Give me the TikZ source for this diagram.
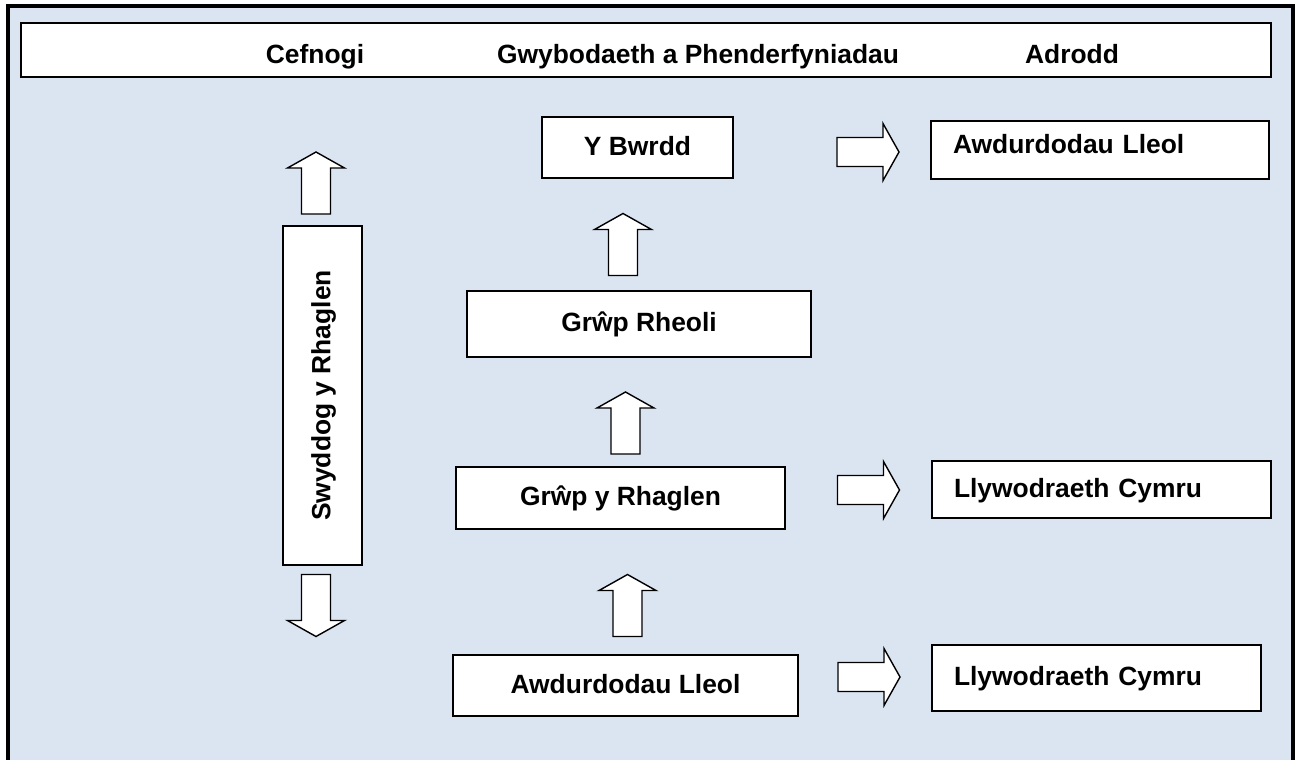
\documentclass[tikz,border=0pt]{standalone}
\usepackage{fontspec}
\setmainfont{Liberation Sans}
\usepackage{tikz}
\usetikzlibrary{calc,positioning}
\definecolor{panelblue}{RGB}{219,229,241}
\tikzset{
    every node/.style={font=\fontsize{13.2}{16}\selectfont\bfseries},
    box node/.style={draw,line width=0.9pt,fill=white,inner sep=0pt,text height=0.88em,text depth=0.1em},
    report node/.style={box node,align=left,inner xsep=11pt},
    arrow line/.style={draw,line width=0.7pt,fill=white,line join=miter},
    block arrow/.pic={
        \draw[arrow line] (-31,-14.5) -- (15,-14.5) -- (15,-28.5) -- (31,0) -- (15,28.5) -- (15,14.5) -- (-31,14.5) -- cycle;
    }
}

\begin{document}
\begin{tikzpicture}[x=0.5pt,y=-0.5pt]

    \useasboundingbox (0,0) rectangle (1302,760);
    \clip (0,0) rectangle (1302,760);
    \fill[white] (0,0) rectangle (1302,760);
    \draw[line width=2pt,fill=panelblue] (8,6) rectangle (1292.5,790);

    \node[box node,minimum width=625pt,minimum height=27pt] (header) at (646,50) {};
    \node[anchor=base] (cefnogi) at (315,63) {Cefnogi};
    \node[anchor=base] (gwybodaeth) at (698,63) {Gwybodaeth a Phenderfyniadau};
    \node[anchor=base] (adrodd) at (1072,63) {Adrodd};

    \node[box node,minimum width=95.5pt,minimum height=30.5pt] (bwrdd) at (637.5,147.5) {Y Bwrdd};
    \node[box node,minimum width=172pt,minimum height=33pt] (rheoli) at (639,324) {Grŵp Rheoli};
    \node[box node,minimum width=164.5pt,minimum height=31pt] (rhaglen) at (620.5,498) {Grŵp y Rhaglen};
    \node[box node,minimum width=172.5pt,minimum height=30.5pt] (awdurdodau) at (625.5,685.5) {Awdurdodau Lleol};

    \node[box node,rotate=90,minimum width=169.5pt,minimum height=39.5pt] (swyddog) at (322.5,395.5) {Swyddog y Rhaglen};

    \node[report node,text depth=0.55em,text width=147pt,minimum height=29pt] (adAwdurdodau) at (1100,150) {Awdurdodau Lleol};
    \node[report node,text width=147.5pt,minimum height=28.5pt] (adLlyw) at (1101.5,489.5) {Llywodraeth Cymru};
    \node[report node,text width=142.5pt,minimum height=33pt] (adLlywB) at (1096.5,678) {Llywodraeth Cymru};

    \foreach \ax/\ay/\ang in {316/183/90, 316/605.5/-90, 623/244.5/90, 625.5/423/90, 627.5/605.5/90, 868/152/0, 868.5/490/0, 869/677/0}
        \pic[rotate=\ang] at (\ax,\ay) {block arrow};

\end{tikzpicture}
\end{document}
